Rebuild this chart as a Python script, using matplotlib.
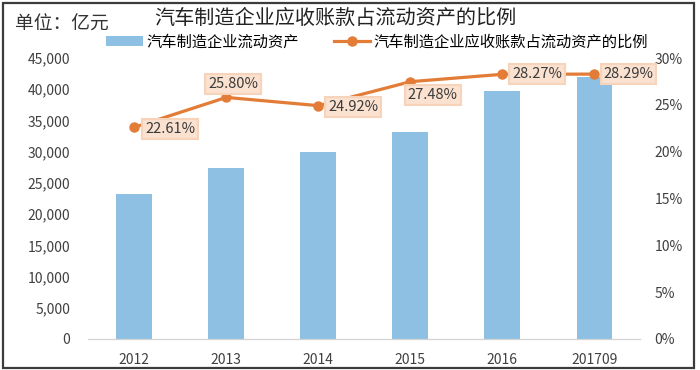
import matplotlib.pyplot as plt
import matplotlib.patches as mpatches
from matplotlib.ticker import FuncFormatter

plt.rcParams['font.family'] = ['Noto Sans CJK SC', 'DejaVu Sans']

years = ['2012', '2013', '2014', '2015', '2016', '201709']
assets = [23200, 27400, 30000, 33200, 39700, 42000]          # 汽车制造企业流动资产 (亿元)
ratio = [22.61, 25.80, 24.92, 27.48, 28.27, 28.29]           # 应收账款占流动资产比例 (%)
label_offsets = [(26, -1), (5, 9.5), (25, -0.7), (16, -9.4), (25, 0), (24.5, 0)]

bar_color = '#8EC0E4'
line_color = '#E27C36'

fig = plt.figure(figsize=(7, 3.7), dpi=100)
ax = fig.add_axes([0.126, 0.084, 0.789, 0.759])
x = range(len(years))

ax.bar(x, assets, width=0.39, color=bar_color, label='汽车制造企业流动资产', zorder=2)
ax.set_ylim(0, 45000)
ax.set_yticks(range(0, 45001, 5000))
ax.yaxis.set_major_formatter(FuncFormatter(lambda v, p: f'{int(v):,}'))
ax.set_xlim(-0.5, len(years) - 0.5)
ax.set_xticks(list(x))
ax.set_xticklabels(years)

ax2 = ax.twinx()
ax2.plot(x, ratio, color=line_color, lw=2.3, marker='o', ms=6.5,
         label='汽车制造企业应收账款占流动资产的比例', zorder=3)
ax2.set_ylim(0, 30)
ax2.set_yticks(range(0, 31, 5))
ax2.yaxis.set_major_formatter(FuncFormatter(lambda v, p: f'{int(v)}%'))

# data labels in peach boxes
for i, v in enumerate(ratio):
    dx, dy = label_offsets[i]
    ax2.annotate(f'{v:.2f}%', (i, v), xytext=(dx, dy), textcoords='offset points',
                 ha='center', va='center', fontsize=10.5, color='#3a3a3a',
                 bbox=dict(boxstyle='square,pad=0.2', fc='#FBE1CF', ec='#F7D3BA', lw=1.5),
                 zorder=5)

for a in (ax, ax2):
    for s in ('top', 'left', 'right'):
        a.spines[s].set_visible(False)
    a.spines['bottom'].set_color('#D4D4D4')
    a.tick_params(length=0, labelsize=10, colors='#404040')
ax.tick_params(axis='x', pad=10)
ax.tick_params(axis='y', pad=13)
ax2.tick_params(axis='y', pad=10)

h1, l1 = ax.get_legend_handles_labels()
h2, l2 = ax2.get_legend_handles_labels()
fig.legend(h1 + h2, l1 + l2, loc='center left', bbox_to_anchor=(0.152, 0.887), ncol=2,
           frameon=False, fontsize=11, handlelength=2.4, columnspacing=2.3,
           handletextpad=0.2, borderpad=0, borderaxespad=0)

fig.text(0.021, 0.935, '单位：亿元', fontsize=13.5, color='#333333', va='center')
fig.text(0.221, 0.95, '汽车制造企业应收账款占流动资产的比例', fontsize=14.5, color='#222222', va='center')

fig.patches.append(mpatches.Rectangle((0.004, 0.005), 0.987, 0.986, transform=fig.transFigure,
                                      fill=False, ec='#3c3c3c', lw=1.6))

fig.savefig('out.png', dpi=100)
